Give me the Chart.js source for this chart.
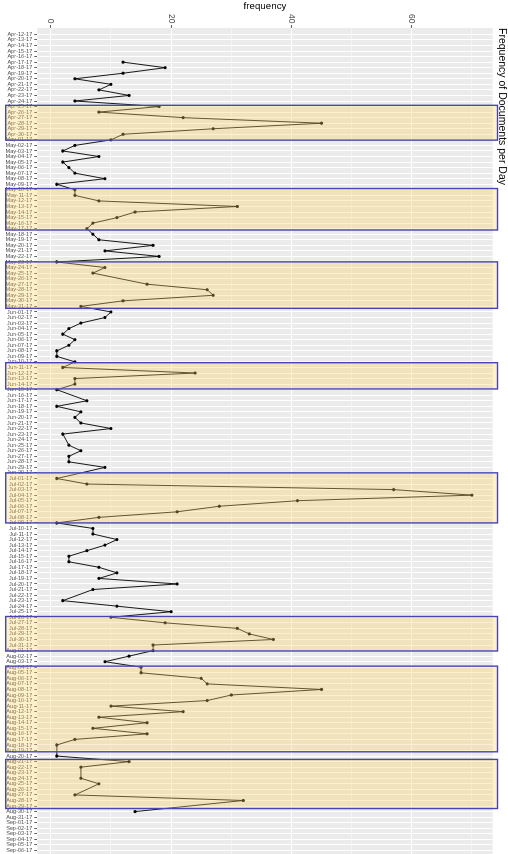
<!DOCTYPE html>
<html>
<head>
<meta charset="utf-8">
<title>Frequency of Documents per Day</title>
<script src="https://cdn.jsdelivr.net/npm/chart.js@4.4.1/dist/chart.umd.min.js"></script>
<style>
  html, body { margin: 0; padding: 0; background: #fff; overflow: hidden; }
  /* plot is drawn landscape, then turned a quarter clockwise like the original */
  #turn {
    position: absolute; left: 0; top: 0;
    width: 860px; height: 508px;
    transform-origin: 0 0;
    transform: translateX(508px) rotate(90deg);
  }
</style>
</head>
<body>
<div id="turn"><canvas id="plot" width="860" height="508"></canvas></div>
<script>
/* one label per day, Apr-12-17 .. Sep-06-17 */
const monthNames = ["Jan", "Feb", "Mar", "Apr", "May", "Jun", "Jul", "Aug", "Sep", "Oct", "Nov", "Dec"];
const dayLabels = [];
for (let i = 0; i < 148; i++) {
    const d = new Date(2017, 3, 12 + i);
    dayLabels.push(monthNames[d.getMonth()] + "-" + String(d.getDate()).padStart(2, "0") + "-17");
}

// documents per day, null = no documents that day (line just joins over it)
const aprCounts = [null, null, null, null, null, 12, 19, 12, 4, 10, 8, 13, 4, 18, 8, 22, 45, 27, 12];
const mayCounts = [10, 4, 2, 8, 2, 3, 4, 9, 1, 4, 4, 8, 31, 14, 11, 7, 6, 7, 8, 17, 9, 18, 1, 9, 7, null, 16, 26, 27, 12, 5];
const junCounts = [10, 9, 5, 3, 2, 4, 3, 1, 1, 4, 2, 24, 4, 4, 1, null, 6, 1, 5, 4, 5, 10, 2, null, 3, 5, 3, 3, 9, null];
const julCounts = [1, 6, 57, 70, 41, 28, 21, 8, 1, 7, 7, 11, 9, 6, 3, 3, 8, 11, 8, 21, 7, null, 2, 11, 20, 10, 19, 31, 33, 37, 17];
const augCounts = [17, 13, 9, 15, 15, 25, 26, 45, 30, 26, 10, 22, 8, 16, 7, 16, 4, 1, null, 1, 13, 5, null, 5, 8, null, 4, 32, null, 14, null];
const sepCounts = [null, null, null, null, null, null];
const docCounts = [].concat(aprCounts, mayCounts, junCounts, julCounts, augCounts, sepCounts);

const freqTicks = [0, 10, 20, 30, 40, 50, 60, 70];

// highlighted periods, as positions on the day axis
const bandStart = [12.78, 27.77, 40.98, 59.14, 78.98, 104.86, 113.8, 130.6];
const bandEnd = [19.05, 35.24, 49.35, 63.87, 88.0, 111.07, 129.23, 139.45];
const bandLow = -7.5;
const bandHigh = 74.25;

const fontFamily = "'Liberation Sans', Arial, Helvetica, sans-serif";

/* grey ggplot-style panel behind the grid */
const panelBackground = {
    id: 'panelBackground',
    beforeDraw(chart) {
        const {ctx, chartArea} = chart;
        ctx.save();
        ctx.fillStyle = '#ebebeb';
        ctx.fillRect(chartArea.left, chartArea.top, chartArea.width, chartArea.height);
        ctx.restore();
    }
};

/* yellow boxes with blue border, laid over everything */
const highlightBands = {
    id: 'highlightBands',
    afterDraw(chart) {
        const {ctx, scales: {x, y}} = chart;
        const top = y.getPixelForValue(bandHigh);
        const bottom = y.getPixelForValue(bandLow);
        ctx.save();
        for (let i = 0; i < bandStart.length; i++) {
            const left = x.getPixelForValue(bandStart[i]);
            const right = x.getPixelForValue(bandEnd[i]);
            ctx.fillStyle = 'rgba(255, 210, 100, 0.33)';
            ctx.fillRect(left, top, right - left, bottom - top);
            ctx.strokeStyle = '#4545b5';
            ctx.lineWidth = 1.4;
            ctx.strokeRect(left, top, right - left, bottom - top);
        }
        ctx.restore();
    }
};

const points = dayLabels.map((day, i) => ({x: i, y: docCounts[i]}));

const config = {
    type: 'line',
    data: {
        datasets: [{
            data: points,
            borderColor: '#000',
            borderWidth: 0.9,
            pointRadius: 1.6,
            pointBorderWidth: 0,
            pointBackgroundColor: '#000',
            spanGaps: true,
            tension: 0
        }]
    },
    options: {
        responsive: false,
        animation: false,
        devicePixelRatio: 1,
        layout: {padding: 0},
        plugins: {
            legend: {display: false},
            tooltip: {enabled: false},
            title: {
                display: true,
                text: 'Frequency of Documents per Day',
                position: 'top',
                align: 'start',
                fullSize: false,
                color: '#000',
                font: {family: fontFamily, size: 10.5, weight: 'normal'},
                padding: {top: 0, bottom: 2.7}
            }
        },
        scales: {
            x: {
                type: 'linear',
                position: 'bottom',
                min: -1.15,
                max: 148,
                afterBuildTicks: (scale) => { scale.ticks = dayLabels.map((d, i) => ({value: i})); },
                afterFit: (scale) => { scale.height = 37.3; },
                ticks: {
                    autoSkip: false,
                    minRotation: 90,
                    maxRotation: 90,
                    padding: 2,
                    color: '#4d4d4d',
                    font: {family: fontFamily, size: 5.6},
                    callback: (v) => dayLabels[v]
                },
                grid: {color: '#ffffff', lineWidth: 1, tickLength: 3, tickColor: '#333', tickWidth: 0.8},
                border: {display: false}
            },
            y: {
                min: -2.25,
                max: 73.45,
                afterBuildTicks: (scale) => { scale.ticks = freqTicks.map((v) => ({value: v})); },
                afterFit: (scale) => { scale.width = 28; },
                ticks: {
                    padding: 1.5,
                    color: '#4d4d4d',
                    font: {family: fontFamily, size: 8.5},
                    callback: (v) => (v % 20 === 0 ? v : '')
                },
                grid: {
                    color: '#ffffff',
                    lineWidth: (c) => (c.tick && c.tick.value % 20 === 0 ? 1.1 : 0.5),
                    tickLength: 3,
                    tickColor: (c) => (c.tick && c.tick.value % 20 === 0 ? '#333' : 'rgba(0,0,0,0)'),
                    tickWidth: 0.8
                },
                border: {display: false},
                title: {
                    display: true,
                    text: 'frequency',
                    color: '#000',
                    font: {family: fontFamily, size: 9.8},
                    padding: 0
                }
            }
        }
    },
    plugins: [panelBackground, highlightBands]
};

const docChart = new Chart(document.getElementById('plot'), config);
</script>
</body>
</html>
